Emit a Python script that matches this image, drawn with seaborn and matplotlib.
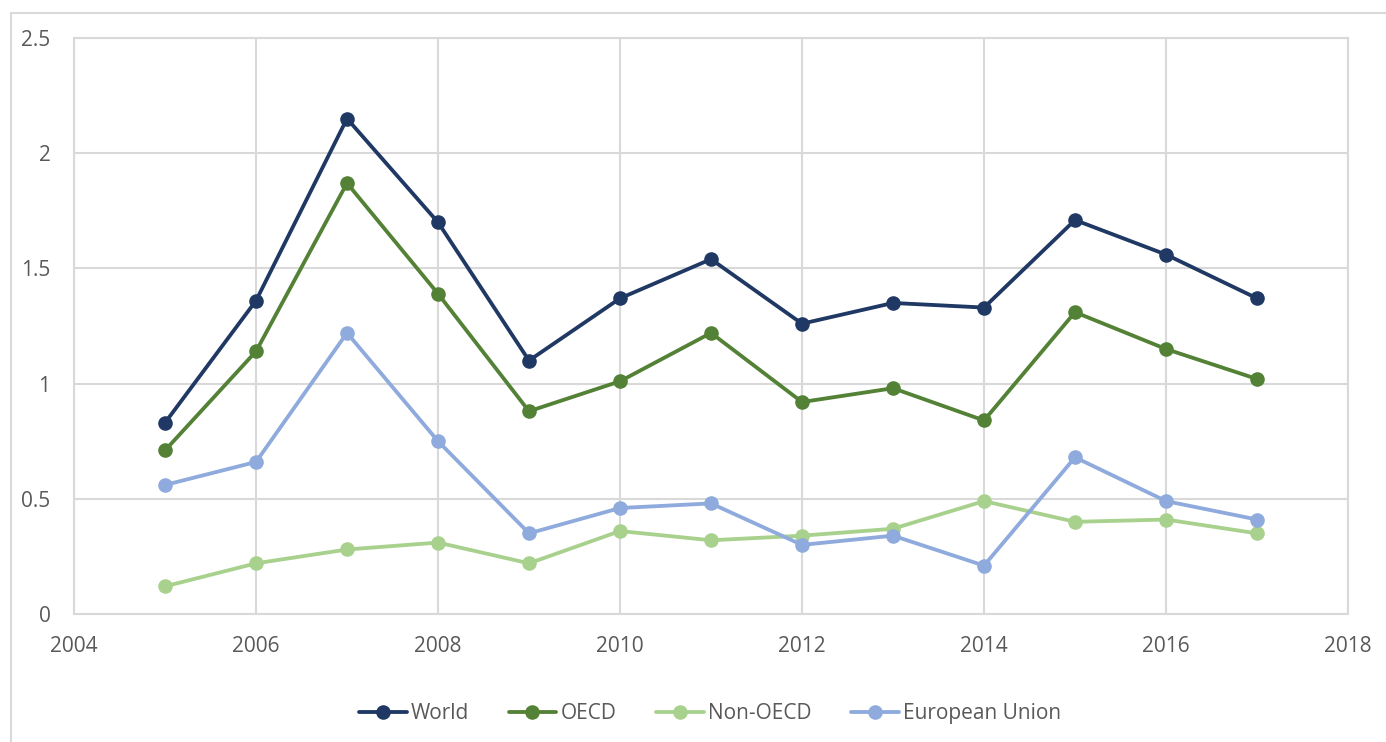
import pandas as pd
import numpy as np
import matplotlib.pyplot as plt
import matplotlib.patches as mpatches
import seaborn as sns

sns.set_theme(style="white")
plt.rcParams['font.family'] = ['Open Sans', 'DejaVu Sans']

# valores
years = [2005, 2006, 2007, 2008, 2009, 2010, 2011, 2012, 2013, 2014, 2015, 2016, 2017]
world = [0.83, 1.36, 2.15, 1.70, 1.10, 1.37, 1.54, 1.26, 1.35, 1.33, 1.71, 1.56, 1.37]
oecd = [0.71, 1.14, 1.87, 1.39, 0.88, 1.01, 1.22, 0.92, 0.98, 0.84, 1.31, 1.15, 1.02]
non_oecd = [0.12, 0.22, 0.28, 0.31, 0.22, 0.36, 0.32, 0.34, 0.37, 0.49, 0.40, 0.41, 0.35]
eu = [0.56, 0.66, 1.22, 0.75, 0.35, 0.46, 0.48, 0.30, 0.34, 0.21, 0.68, 0.49, 0.41]

series_names = ['World', 'OECD', 'Non-OECD', 'European Union']
colors = ['#203864', '#538135', '#A9D18E', '#8FAADC']

df = pd.DataFrame({'year': years * 4,
                   'value': world + oecd + non_oecd + eu,
                   'series': np.repeat(series_names, len(years))})

fig = plt.figure(figsize=(13.86, 7.42), dpi=100)
ax = fig.add_axes([0.0534, 0.1725, 0.9192, 0.7763])

# moldura do grafico (so aparece esquerda e topo)
fig.patches.append(mpatches.Rectangle((11/1386, -0.1), 1.2, 1 - 13/742 + 0.1,
                                      transform=fig.transFigure, fill=False,
                                      edgecolor='#D9D9D9', linewidth=1.5))

sns.lineplot(data=df, x='year', y='value', hue='series', hue_order=series_names,
             palette=colors, marker='o', markersize=10.5, markeredgewidth=0,
             linewidth=2.75, ax=ax, zorder=3)

ax.set_xlim(2004, 2018)
ax.set_ylim(0, 2.5)
ax.set_xticks(range(2004, 2019, 2))
ax.set_yticks([0, 0.5, 1, 1.5, 2, 2.5])
ax.set_yticklabels(['0', '0.5', '1', '1.5', '2', '2.5'])
ax.grid(True, color='#D9D9D9', linewidth=1.5)
for s in ax.spines.values():
    s.set_color('#D9D9D9')
    s.set_linewidth(1.5)
ax.tick_params(axis='x', labelsize=15, colors='#595959', length=0, pad=16)
ax.tick_params(axis='y', labelsize=15, colors='#595959', length=0, pad=17)
ax.set_xlabel('')
ax.set_ylabel('')

handles, labels = ax.get_legend_handles_labels()
ax.legend(handles, labels, loc='center', bbox_to_anchor=(710/1386, 0.038),
          bbox_transform=fig.transFigure, ncol=4, frameon=False,
          fontsize=15, labelcolor='#595959', handlelength=2.3,
          handletextpad=0.2, columnspacing=1.9)

plt.savefig('out.png', dpi=100)
